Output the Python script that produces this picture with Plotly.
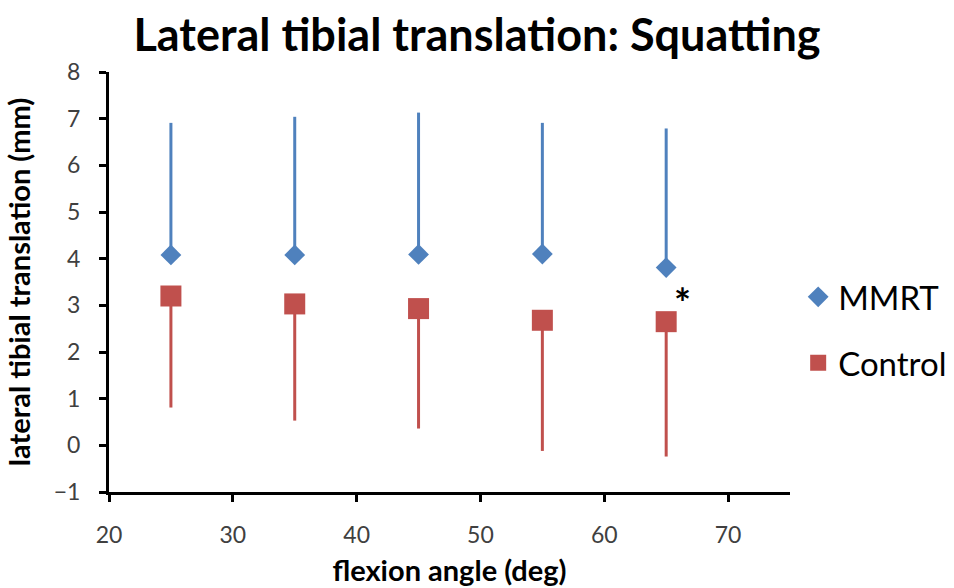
import plotly.graph_objects as go

angles = [25, 35, 45, 55, 65]
mmrt_mean = [4.08, 4.08, 4.09, 4.10, 3.81]
mmrt_upper = [6.91, 7.04, 7.13, 6.91, 6.79]
control_mean = [3.20, 3.03, 2.93, 2.68, 2.65]
control_lower = [0.81, 0.53, 0.36, -0.12, -0.24]

mmrt_err = [u - m for u, m in zip(mmrt_upper, mmrt_mean)]
control_err = [m - l for m, l in zip(control_mean, control_lower)]

BLUE = "#4F81BD"
RED = "#C0504D"
FONT = "Lato"

fig = go.Figure()
fig.add_trace(go.Scatter(
    x=angles, y=mmrt_mean, mode="markers", name="MMRT", legendgroup="a",
    marker=dict(symbol="diamond", size=16, color=BLUE),
    error_y=dict(type="data", symmetric=False, array=mmrt_err,
                 arrayminus=[0] * len(angles), width=0, thickness=3, color=BLUE),
))
fig.add_trace(go.Scatter(
    x=angles, y=control_mean, mode="markers", name="Control", legendgroup="b",
    marker=dict(symbol="square", size=21, color=RED),
    error_y=dict(type="data", symmetric=False, array=[0] * len(angles),
                 arrayminus=control_err, width=0, thickness=3, color=RED),
))

fig.add_annotation(x=66.3, y=3.22, text="<b>*</b>", showarrow=False, yshift=-8,
                   font=dict(family=FONT, size=40, color="black"))

fig.update_layout(
    width=954, height=588,
    margin=dict(l=109, r=164, t=72, b=96, autoexpand=False),
    paper_bgcolor="white", plot_bgcolor="white",
    title=dict(text="<b>Lateral tibial translation: Squatting</b>",
               x=0.5, xanchor="center", y=0.94, yanchor="middle",
               font=dict(family=FONT, size=45, color="black")),
    font=dict(family=FONT),
    legend=dict(x=1.012, xanchor="left", y=0.386, yanchor="middle",
                font=dict(family=FONT, size=33, color="black"),
                tracegroupgap=20, traceorder="grouped",
                bgcolor="rgba(0,0,0,0)"),
    xaxis=dict(range=[20, 75], dtick=10, tick0=20, showgrid=False, zeroline=False,
               automargin=False,
               showline=True, linecolor="black", linewidth=3,
               ticks="outside", ticklen=7, tickwidth=2.5, tickcolor="black",
               ticklabelstandoff=13,
               tickfont=dict(family=FONT, size=23, color="#404040"),
               title=dict(text="<b>flexion angle (deg)</b>",
                          font=dict(family=FONT, size=29, color="black"))),
    yaxis=dict(range=[-1, 8], dtick=1, tick0=-1, showgrid=False, zeroline=False,
               automargin=False,
               showline=True, linecolor="black", linewidth=3,
               ticks="outside", ticklen=7, tickwidth=2.5, tickcolor="black",
               ticklabelstandoff=14,
               tickfont=dict(family=FONT, size=23, color="#404040"),
               title=dict(text="<b>lateral tibial translation (mm)</b>",
                          font=dict(family=FONT, size=29, color="black"))),
)

fig.write_html("out.html")
